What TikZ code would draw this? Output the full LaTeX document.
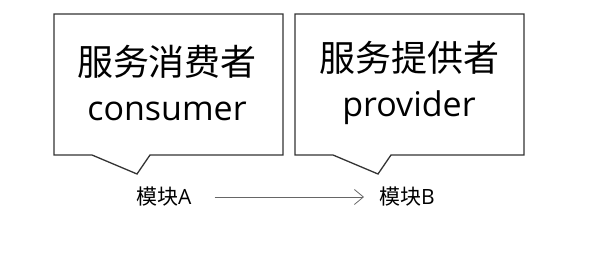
\documentclass[tikz,border=0pt]{standalone}
\usepackage{fontspec}
\setmainfont{Open Sans}
\newfontfamily\cjk{Noto Sans CJK SC}
\usetikzlibrary{arrows.meta,calc}
\begin{document}
\begin{tikzpicture}[x=1pt,y=-1pt,
  callout/.style={draw=black!80,line width=1.3pt,line join=miter,fill=white},
  bigtext/.style={align=center,font=\fontsize{34}{45}\selectfont,inner sep=0pt},
  modlabel/.style={font=\fontsize{21}{23}\selectfont,inner sep=0pt,anchor=west},
  flow/.style={draw=black!60,line width=0.8pt,-{Straight Barb[length=9pt,width=15pt,line width=0.8pt]}}]
  \useasboundingbox (0,0) rectangle (595,264);
  % consumer callout
  \draw[callout] (54,14) -- (283,14) -- (283,155) -- (150,155) -- (137,174) -- (92,155) -- (54,155) -- cycle;
  % provider callout
  \draw[callout] (295,14) -- (524,14) -- (524,155) -- (391,155) -- (378,174) -- (333,155) -- (295,155) -- cycle;
  \node[bigtext] (cons) at (167,83) {{\cjk\fontsize{36}{45}\selectfont 服务消费者}\\consumer};
  \node[bigtext] (prov) at (409,83) {{\cjk\fontsize{36}{45}\selectfont 服务提供者}\\provider};
  \node[modlabel] (ma) at (136,197) {{\cjk 模块}A};
  \node[modlabel] (mb) at (379,197) {{\cjk 模块}B};
  \draw[flow] ($(ma.east)+(23,0)$) -- ($(mb.west)+(-15,0)$);
\end{tikzpicture}
\end{document}
